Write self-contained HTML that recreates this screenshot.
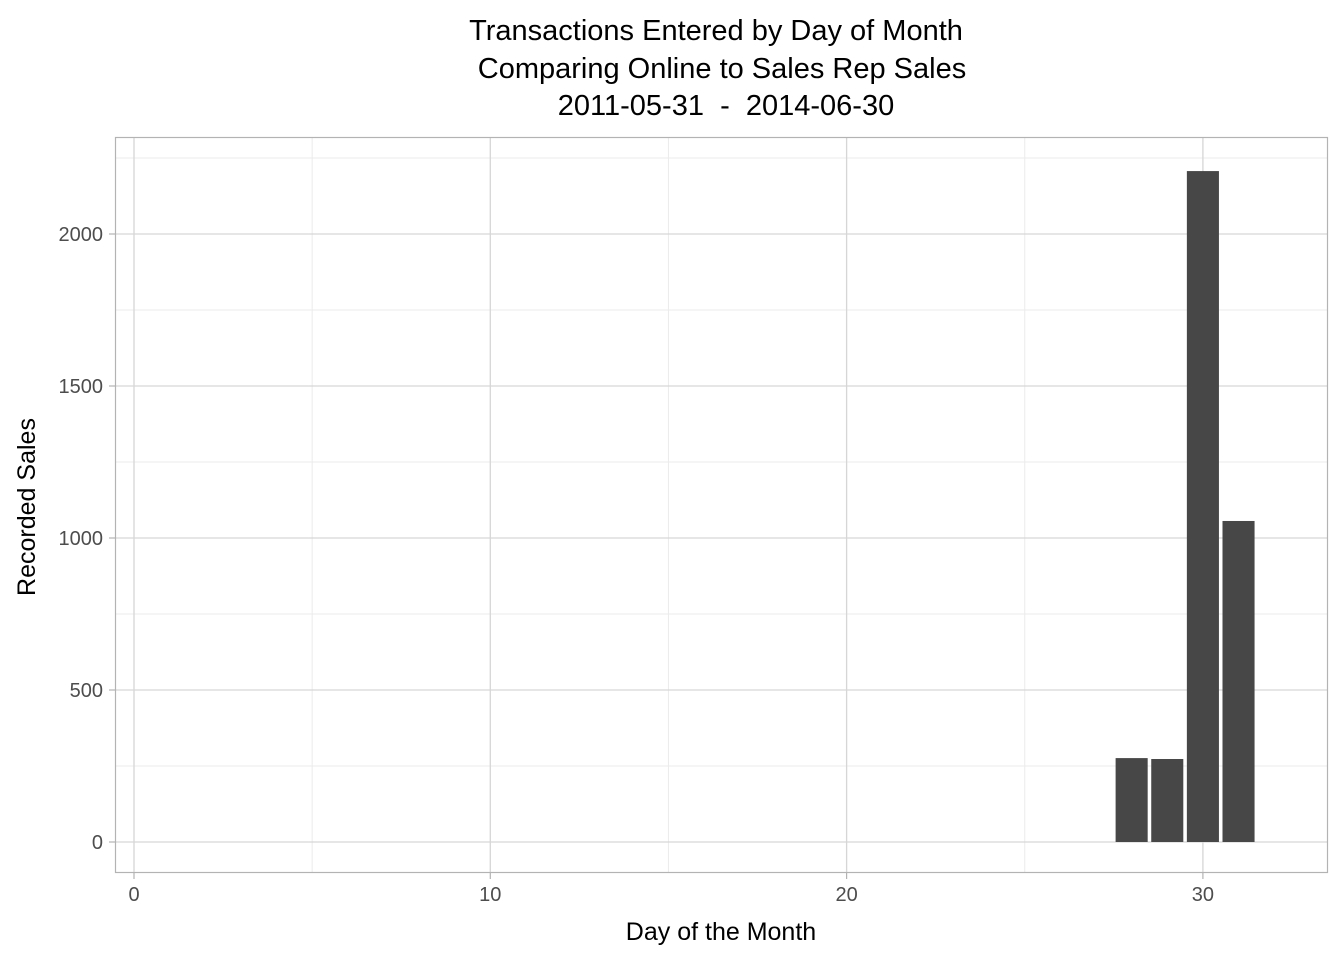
<!DOCTYPE html>
<html><head><meta charset="utf-8"><style>
body{margin:0;background:#fff;font-family:"Liberation Sans",Arial,sans-serif;}
text{white-space:pre;}
</style></head><body>
<svg width="1344" height="960" xmlns="http://www.w3.org/2000/svg">
<g id="grid"></g>
<g id="bars"></g>
<rect x="115.5" y="137.5" width="1212" height="735" fill="none" stroke="#b3b3b3" stroke-width="1.2"/>
<g id="ticks"></g>
<text x="716" y="40" font-size="29" text-anchor="middle">Transactions Entered by Day of Month</text>
<text x="722" y="78" font-size="29" text-anchor="middle">Comparing Online to Sales Rep Sales</text>
<text x="726" y="115" font-size="29" text-anchor="middle" xml:space="preserve">2011-05-31  -  2014-06-30</text>
<text x="721" y="940" font-size="25" text-anchor="middle">Day of the Month</text>
<text x="0" y="0" font-size="25" text-anchor="middle" transform="translate(35,507) rotate(-90)">Recorded Sales</text>
</svg>
<script>
const days=[28,29,30,31];
const sales=[276,273,2207,1056];
const xTicks=[0,10,20,30];
const yTicks=[0,500,1000,1500,2000];
const xMinor=[5,15,25];
const yMinor=[250,750,1250,1750,2250];
const NS="http://www.w3.org/2000/svg";
const X=v=>134+v*35.63, Y=v=>842-v*0.304;
const L=115,R=1328,T=137,B=873;
function mk(t,a,p){const e=document.createElementNS(NS,t);for(const k in a)e.setAttribute(k,a[k]);p.appendChild(e);return e;}
const g=document.getElementById('grid'),bg=document.getElementById('bars'),tg=document.getElementById('ticks');
xMinor.forEach(v=>{const e=mk('line',{x1:X(v),x2:X(v),y1:T,y2:B,stroke:'#ebebeb','stroke-width':1},g);});
yMinor.forEach(v=>{if(Y(v)<T)return;const e=mk('line',{x1:L,x2:R,y1:Y(v),y2:Y(v),stroke:'#ebebeb','stroke-width':1},g);});
xTicks.forEach(v=>{const e=mk('line',{x1:X(v),x2:X(v),y1:T,y2:B,stroke:'#d6d6d6','stroke-width':1.3},g);
const k=mk('line',{x1:X(v),x2:X(v),y1:B,y2:B+6,stroke:'#b3b3b3','stroke-width':1.2},tg);
const t=mk('text',{x:X(v),y:B+28,'font-size':20,'text-anchor':'middle',fill:'#4d4d4d'},tg);t.textContent=v;});
yTicks.forEach(v=>{const e=mk('line',{x1:L,x2:R,y1:Y(v),y2:Y(v),stroke:'#d6d6d6','stroke-width':1.3},g);
const k=mk('line',{x1:L-6,x2:L,y1:Y(v),y2:Y(v),stroke:'#b3b3b3','stroke-width':1.2},tg);
const t=mk('text',{x:L-12,y:Y(v)+7,'font-size':20,'text-anchor':'end',fill:'#4d4d4d'},tg);t.textContent=v;});
days.forEach((d,i)=>{const w=0.9*35.63;const e=mk('rect',{x:X(d)-w/2,y:Y(sales[i]),width:w,height:Y(0)-Y(sales[i]),fill:'#474747'},bg);});
</script>
</body></html>
